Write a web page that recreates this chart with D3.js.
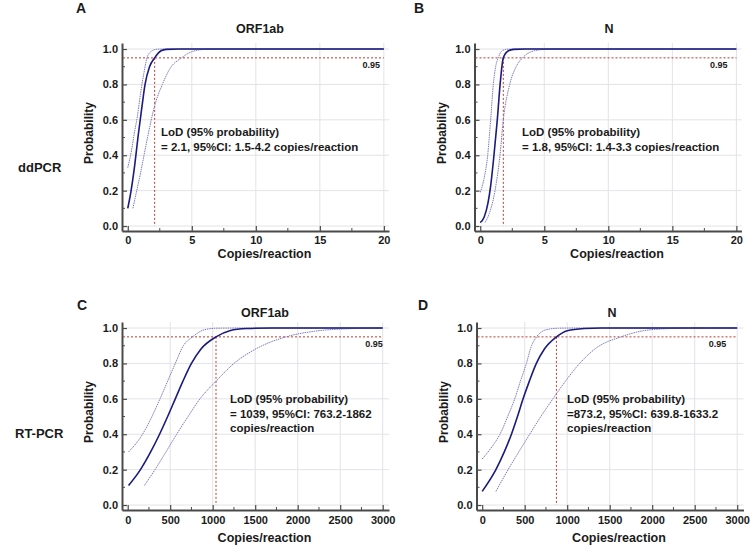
<!DOCTYPE html>
<html>
<head>
<meta charset="utf-8">
<script src="https://cdn.jsdelivr.net/npm/d3@7"></script>
<style>
  body { margin: 0; background: #fff; }
  svg text { font-family: "Liberation Sans", Arial, sans-serif; font-weight: bold; fill: #1a1a1a; }
</style>
</head>
<body>
<div id="chart"></div>
<script>
// probit fits: [concentration, probability]
var orfDdFit   = [[0,0.10],[0.26,0.2],[0.5,0.32],[0.83,0.52],[1.1,0.67],[1.35,0.8],[1.7,0.9],[2.1,0.95],[2.6,0.99],[3,0.998],[4,1],[20,1]];
var orfDdUpper = [[0,0.33],[0.3,0.43],[0.5,0.52],[0.75,0.62],[1.0,0.75],[1.25,0.86],[1.5,0.95],[1.8,0.985],[2.3,0.999],[3,1],[20,1]];
var orfDdLower = [[0.4,0.1],[0.7,0.2],[1.0,0.3],[1.27,0.4],[1.6,0.52],[2.1,0.68],[2.7,0.8],[3.3,0.89],[4.2,0.95],[5,0.985],[6,0.998],[7,1],[20,1]];

var nDdFit   = [[0,0.02],[0.3,0.05],[0.6,0.13],[0.8,0.22],[1.07,0.4],[1.33,0.6],[1.55,0.8],[1.8,0.95],[2.2,0.99],[2.6,0.998],[3.5,1],[20,1]];
var nDdUpper = [[0,0.19],[0.3,0.27],[0.58,0.4],[0.81,0.6],[1.02,0.8],[1.2,0.9],[1.4,0.95],[1.7,0.99],[2.1,0.999],[3,1],[20,1]];
var nDdLower = [[0.37,0.02],[0.7,0.07],[1.15,0.2],[1.54,0.4],[1.8,0.6],[2.3,0.8],[2.8,0.9],[3.3,0.95],[4,0.985],[5,0.998],[6,1],[20,1]];

var orfRtFit   = [[10,0.11],[150,0.2],[270,0.3],[375,0.4],[470,0.5],[560,0.6],[650,0.7],[750,0.8],[860,0.88],[1039,0.95],[1200,0.985],[1400,0.997],[1700,1],[3000,1]];
var orfRtUpper = [[10,0.3],[175,0.4],[285,0.5],[380,0.6],[470,0.7],[560,0.8],[655,0.9],[763,0.95],[900,0.99],[1050,0.999],[1300,1],[3000,1]];
var orfRtLower = [[196,0.11],[321,0.2],[450,0.3],[576,0.4],[710,0.5],[850,0.6],[1040,0.7],[1250,0.8],[1500,0.88],[1862,0.95],[2200,0.982],[2600,0.996],[3000,1]];

var nRtFit   = [[0,0.077],[161,0.2],[260,0.3],[344,0.4],[415,0.5],[481,0.6],[555,0.7],[637,0.8],[730,0.88],[873.2,0.95],[1000,0.985],[1200,0.997],[1400,1],[3000,1]];
var nRtUpper = [[0,0.26],[100,0.32],[209,0.4],[300,0.5],[383,0.6],[450,0.7],[520,0.8],[580,0.9],[640,0.95],[750,0.99],[900,0.999],[1100,1],[3000,1]];
var nRtLower = [[161,0.077],[305,0.2],[430,0.3],[559,0.4],[690,0.5],[832,0.6],[980,0.7],[1146,0.8],[1350,0.89],[1633,0.95],[1900,0.985],[2200,0.997],[2500,1],[3000,1]];

var lodValues = [2.1, 1.8, 1039, 873.2];
var lodTexts = [
  ["LoD (95% probability)", "= 2.1, 95%CI: 1.5-4.2 copies/reaction"],
  ["LoD (95% probability)", "= 1.8, 95%CI: 1.4-3.3 copies/reaction"],
  ["LoD (95% probability)", "= 1039, 95%CI: 763.2-1862", "copies/reaction"],
  ["LoD (95% probability)", "=873.2, 95%CI: 639.8-1633.2", "copies/reaction"]
];
var panelLetters = ["A", "B", "C", "D"];
var panelTitles = ["ORF1ab", "N", "ORF1ab", "N"];
var rowLabels = ["ddPCR", "RT-PCR"];
var ddTicks = [0, 5, 10, 15, 20];
var rtTicks = [0, 500, 1000, 1500, 2000, 2500, 3000];
var yTicks = [0, 0.2, 0.4, 0.6, 0.8, 1.0];
var refLevel = 0.95;

var width = 750, height = 547;

var svg = d3.select("#chart").append("svg")
  .attr("width", width)
  .attr("height", height);

// layout of each panel (plot box in pixels)
var panels = [
  {left: 122,   right: 389,   top: 43,  bottom: 231, xDomain: [-0.45, 20.4], ticks: ddTicks, minor: 2.5,
   curves: [orfDdUpper, orfDdLower, orfDdFit], refLabelX: 19.7, tickPad: 5, labelDy: 27,
   letter: [76, 13], title: [260, 33], textX: 161, textY: 136},
  {left: 474.5, right: 741.5, top: 43,  bottom: 231, xDomain: [-0.45, 20.4], ticks: ddTicks, minor: 2.5,
   curves: [nDdUpper, nDdLower, nDdFit], refLabelX: 19.3, tickPad: 5, labelDy: 27,
   letter: [414, 13], title: [609, 33], textX: 522, textY: 136},
  {left: 122,   right: 389,   top: 322, bottom: 510, xDomain: [-67, 3074], ticks: rtTicks, minor: 250,
   curves: [orfRtUpper, orfRtLower, orfRtFit], refLabelX: 3000, tickPad: 6, labelDy: 32,
   letter: [77, 310], title: [265, 317], textX: 230, textY: 403},
  {left: 476.5, right: 743.5, top: 322, bottom: 510, xDomain: [-67, 3074], ticks: rtTicks, minor: 250,
   curves: [nRtUpper, nRtLower, nRtFit], refLabelX: 2870, tickPad: 6, labelDy: 32,
   letter: [418, 310], title: [612, 317], textX: 567, textY: 403}
];

panels.forEach(function(p, i){
  var g = svg.append("g").attr("class", "panel");

  var x = d3.scaleLinear().domain(p.xDomain).range([p.left, p.right]);
  var y = d3.scaleLinear().domain([-0.028, 1.034]).range([p.bottom, p.top]);

  // grid
  g.selectAll(".hgrid").data(yTicks).enter().append("line")
    .attr("x1", p.left).attr("x2", p.right)
    .attr("y1", function(d){ return y(d); }).attr("y2", function(d){ return y(d); })
    .attr("stroke", "#e3e3e8").attr("stroke-width", 1);
  g.selectAll(".vgrid").data(p.ticks.slice(1)).enter().append("line")
    .attr("x1", function(d){ return x(d); }).attr("x2", function(d){ return x(d); })
    .attr("y1", p.top).attr("y2", p.bottom)
    .attr("stroke", "#e3e3e8").attr("stroke-width", 1);

  // axes, ticks pointing inward
  var yAxis = d3.axisLeft(y).tickValues(yTicks).tickFormat(d3.format(".1f")).tickSizeInner(-5).tickSizeOuter(0).tickPadding(4);
  var xAxis = d3.axisBottom(x).tickValues(p.ticks).tickFormat(d3.format("d")).tickSizeInner(-5).tickSizeOuter(0).tickPadding(p.tickPad);

  var ya = g.append("g").attr("transform", "translate(" + p.left + ",0)").call(yAxis);
  var xa = g.append("g").attr("transform", "translate(0," + p.bottom + ")").call(xAxis);
  [ya, xa].forEach(function(a){
    a.select(".domain").attr("stroke", "#4a4a4a").attr("stroke-width", 2);
    a.selectAll(".tick line").attr("stroke", "#4a4a4a").attr("stroke-width", 1.2);
    a.selectAll(".tick text").attr("font-size", 11).attr("font-family", null).attr("fill", "#1a1a1a");
  });

  // minor ticks
  var yMinor = d3.range(0.1, 1.0, 0.2);
  g.selectAll(".ym").data(yMinor).enter().append("line")
    .attr("x1", p.left).attr("x2", p.left + 3)
    .attr("y1", function(d){ return y(d); }).attr("y2", function(d){ return y(d); })
    .attr("stroke", "#4a4a4a");
  var xMinor = p.ticks.slice(0, -1).map(function(d){ return d + p.minor; });
  g.selectAll(".xm").data(xMinor).enter().append("line")
    .attr("x1", function(d){ return x(d); }).attr("x2", function(d){ return x(d); })
    .attr("y1", p.bottom).attr("y2", p.bottom - 3)
    .attr("stroke", "#4a4a4a");

  // 0.95 reference lines
  var xMax = p.ticks[p.ticks.length - 1];
  g.append("line")
    .attr("x1", p.left + 1).attr("x2", x(xMax))
    .attr("y1", y(refLevel)).attr("y2", y(refLevel))
    .attr("stroke", "#c0392b").attr("stroke-width", 1).attr("stroke-dasharray", "2,2");
  g.append("line")
    .attr("x1", x(lodValues[i])).attr("x2", x(lodValues[i]))
    .attr("y1", y(refLevel)).attr("y2", y(0))
    .attr("stroke", "#c0392b").attr("stroke-width", 1).attr("stroke-dasharray", "2,2");
  g.append("text")
    .attr("x", x(p.refLabelX)).attr("y", y(refLevel) + 10)
    .attr("text-anchor", "end").attr("font-size", 9)
    .text(refLevel.toFixed(2));

  // curves
  var line = d3.line()
    .x(function(d){ return x(d[0]); })
    .y(function(d){ return y(d[1]); })
    .curve(d3.curveMonotoneX);

  p.curves.forEach(function(c, j){
    var isFit = j === 2;
    g.append("path")
      .datum(c)
      .attr("fill", "none")
      .attr("stroke", isFit ? "#1b1b7e" : "#7b7bbd")
      .attr("stroke-width", isFit ? 1.6 : 1)
      .attr("stroke-dasharray", isFit ? null : "1.5,0.8")
      .attr("d", line);
  });

  // text
  g.append("text").attr("x", p.letter[0]).attr("y", p.letter[1]).attr("font-size", 14).text(panelLetters[i]);
  g.append("text").attr("x", p.title[0]).attr("y", p.title[1]).attr("text-anchor", "middle").attr("font-size", 12.5).text(panelTitles[i]);
  g.append("text").attr("x", (p.left + p.right) / 2 + 9).attr("y", p.bottom + p.labelDy).attr("text-anchor", "middle").attr("font-size", 12.5).text("Copies/reaction");
  g.append("text")
    .attr("transform", "translate(" + (p.left - 29) + "," + ((p.top + p.bottom) / 2 - 4) + ") rotate(-90)")
    .attr("text-anchor", "middle").attr("font-size", 12).text("Probability");

  lodTexts[i].forEach(function(t, k){
    g.append("text").attr("x", p.textX).attr("y", p.textY + k * 14.5).attr("font-size", 11.5).text(t);
  });
});

svg.append("text").attr("x", 18).attr("y", 172).attr("font-size", 13).text(rowLabels[0]);
svg.append("text").attr("x", 15).attr("y", 438).attr("font-size", 13).text(rowLabels[1]);
</script>
</body>
</html>
